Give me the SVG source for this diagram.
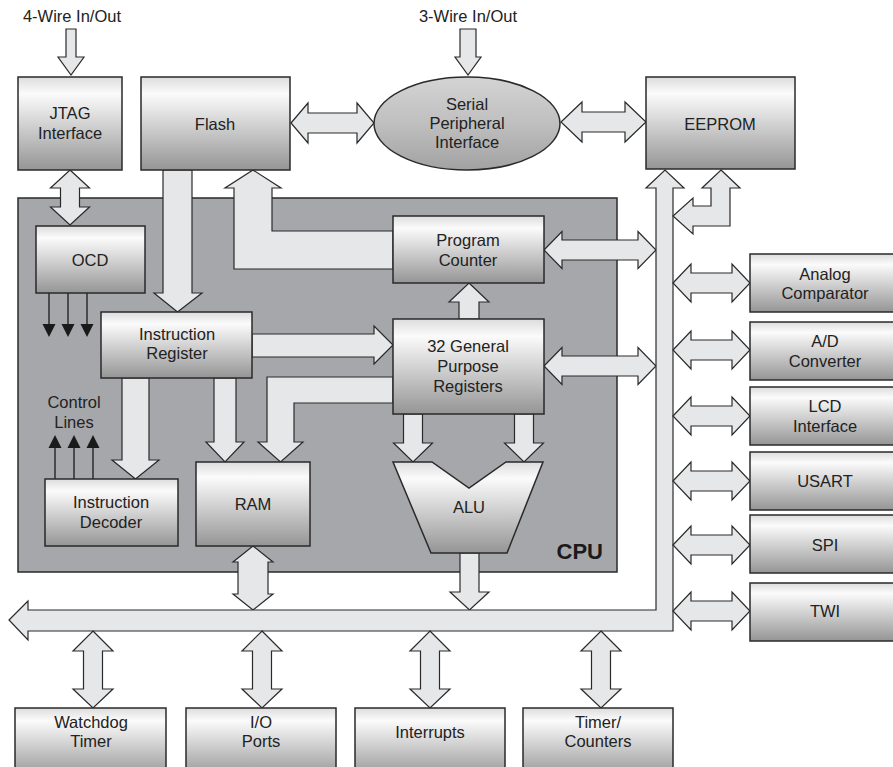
<svg xmlns="http://www.w3.org/2000/svg" width="893" height="767" viewBox="0 0 893 767">
<defs>
<linearGradient id="gb" x1="0" y1="0" x2="0" y2="1">
<stop offset="0" stop-color="#dcdcdc"/>
<stop offset="0.18" stop-color="#fbfbfb"/>
<stop offset="1" stop-color="#959595"/>
</linearGradient>
<linearGradient id="ge" x1="0" y1="0" x2="0" y2="1">
<stop offset="0" stop-color="#d4d4d4"/>
<stop offset="0.5" stop-color="#bfbfbf"/>
<stop offset="1" stop-color="#a2a2a2"/>
</linearGradient>
<style>
.box{fill:url(#gb);stroke:#2a2a2a;stroke-width:1.5}
.arr{fill:#e6e7e8;stroke:#2a2a2a;stroke-width:1.2;stroke-linejoin:miter}
.ln{stroke:#1a1a1a;stroke-width:1.3;fill:none}
.tri{fill:#1a1a1a}
text{font-family:"Liberation Sans",Arial,Helvetica,sans-serif;font-size:16.5px;fill:#222;text-anchor:middle}
</style>
</defs>
<rect width="893" height="767" fill="#ffffff"/>

<g id="cpu">
<rect x="18" y="198" width="599" height="374" fill="#a6a7aa" stroke="#2a2a2a" stroke-width="1.5"/>
<text x="603" y="559" style="font-size:22px;font-weight:bold;text-anchor:end;fill:#1a1a1a">CPU</text>
</g>

<g id="labels">
<text x="72" y="22">4-Wire In/Out</text>
<text x="468" y="22">3-Wire In/Out</text>
</g>

<g id="connectors">
<polygon class="arr" points="66,29 76,29 76,57 84,57 71,75 58,57 66,57"/>
<polygon class="arr" points="460,29 476,29 476,57 481,57 468,75 455,57 460,57"/>
<polygon class="arr" points="70,170 89.5,188 79.5,188 79.5,207 89.5,207 70,225 50.5,207 60.5,207 60.5,188 50.5,188"/>
<polygon class="arr" points="163,170 192,170 192,293 202,293 177.5,312 154,293 163,293"/>
<polygon class="arr" points="253,170 281,188 272,188 272,231 393,231 393,269 234,269 234,188 225,188"/>
<polygon class="arr" points="291,123 308,103 308,113 357,113 357,103 374,123 357,143 357,133 308,133 308,143"/>
<polygon class="arr" points="561,122 582,102 582,112 625,112 625,102 646,122 625,142 625,132 582,132 582,142"/>
<polygon class="arr" points="544,250 562,231.5 562,240 638,240 638,231.5 656,250 638,268.5 638,260 562,260 562,268.5"/>
<polygon class="arr" points="544,366 562,347.5 562,356 638,356 638,347.5 656,366 638,384.5 638,376 562,376 562,384.5"/>
<polygon class="arr" points="469,283 489,302 479,302 479,319 459,319 459,302 449,302"/>
<polygon class="arr" points="252,334 374,334 374,326 393,345 374,364 374,357 252,357"/>
<polygon class="arr" points="122,378 149,378 149,460 159,460 135.5,479 112,460 122,460"/>
<polygon class="arr" points="214,378 236,378 236,442 244,442 225,462 206,442 214,442"/>
<polygon class="arr" points="393,377 267,377 267,442 258,442 280.5,462 303,442 294,442 294,403 393,403"/>
<polygon class="arr" points="403.5,414 422.5,414 422.5,443 432.5,443 413,462 393.5,443 403.5,443"/>
<polygon class="arr" points="514.5,414 533.5,414 533.5,443 543.5,443 524,462 504.5,443 514.5,443"/>
<polygon class="arr" points="460,553 479,553 479,592 489,592 469.5,610 450,592 460,592"/>
<polygon class="arr" points="253,546 273,562 268,562 268,594 273,594 253,610 233,594 238,594 238,562 233,562"/>
<polygon class="arr" points="9,620 28,601 28,610 656,610 656,188 646,188 665,170 684,188 673,188 673,631 28,631 28,640"/>
<polygon class="arr" points="721,170 740,188 730,188 730,226 693,226 693,234 673,216 693,198 693,206 711,206 711,188 702,188"/>
<polygon class="arr" points="673,283 691,264 691,273 732,273 732,264 750,283 732,302 732,293 691,293 691,302"/>
<polygon class="arr" points="673,350 691,331 691,340 732,340 732,331 750,350 732,369 732,360 691,360 691,369"/>
<polygon class="arr" points="673,416 691,397 691,406 732,406 732,397 750,416 732,435 732,426 691,426 691,435"/>
<polygon class="arr" points="673,481 691,462 691,471 732,471 732,462 750,481 732,500 732,491 691,491 691,500"/>
<polygon class="arr" points="673,545 691,526 691,535 732,535 732,526 750,545 732,564 732,555 691,555 691,564"/>
<polygon class="arr" points="673,611 691,592 691,601 732,601 732,592 750,611 732,630 732,621 691,621 691,630"/>
<polygon class="arr" points="93,631 113,651 102.5,651 102.5,689 113,689 93,708 73,689 83.5,689 83.5,651 73,651"/>
<polygon class="arr" points="262,631 282,651 271.5,651 271.5,689 282,689 262,708 242,689 252.5,689 252.5,651 242,651"/>
<polygon class="arr" points="430,631 450,651 439.5,651 439.5,689 450,689 430,708 410,689 420.5,689 420.5,651 410,651"/>
<polygon class="arr" points="601,631 621,651 610.5,651 610.5,689 621,689 601,708 581,689 591.5,689 591.5,651 581,651"/>
<line class="ln" x1="49" y1="293" x2="49" y2="325"/>
<line class="ln" x1="68" y1="293" x2="68" y2="325"/>
<line class="ln" x1="87" y1="293" x2="87" y2="325"/>
<polygon class="tri" points="42.5,324 55.5,324 49,337"/>
<polygon class="tri" points="61.5,324 74.5,324 68,337"/>
<polygon class="tri" points="80.5,324 93.5,324 87,337"/>
<line class="ln" x1="55" y1="479" x2="55" y2="447"/>
<line class="ln" x1="74" y1="479" x2="74" y2="447"/>
<line class="ln" x1="93" y1="479" x2="93" y2="447"/>
<polygon class="tri" points="48.5,448 61.5,448 55,435"/>
<polygon class="tri" points="67.5,448 80.5,448 74,435"/>
<polygon class="tri" points="86.5,448 99.5,448 93,435"/>
<text x="74" y="408">Control</text>
<text x="74" y="428">Lines</text>
</g>

<g id="jtag"><rect class="box" x="18" y="77" width="104" height="93"/><text x="70" y="119">JTAG</text><text x="70" y="139">Interface</text></g>
<g id="flash"><rect class="box" x="141" y="77" width="149" height="93"/><text x="215" y="130">Flash</text></g>
<g id="spi-if"><ellipse cx="467" cy="123.5" rx="93" ry="46.5" fill="url(#ge)" stroke="#2a2a2a" stroke-width="1.5"/><text x="467" y="110">Serial</text><text x="467" y="129">Peripheral</text><text x="467" y="148">Interface</text></g>
<g id="eeprom"><rect class="box" x="646" y="77" width="149" height="92"/><text x="720" y="130">EEPROM</text></g>
<g id="ocd"><rect class="box" x="36" y="226" width="109" height="67"/><text x="90" y="266">OCD</text></g>
<g id="ir"><rect class="box" x="101" y="312" width="151" height="66"/><text x="177" y="340">Instruction</text><text x="177" y="359">Register</text></g>
<g id="pc"><rect class="box" x="393" y="216" width="151" height="67"/><text x="468" y="246">Program</text><text x="468" y="266">Counter</text></g>
<g id="gpr"><rect class="box" x="393" y="319" width="151" height="95"/><text x="468" y="352">32 General</text><text x="468" y="372">Purpose</text><text x="468" y="392">Registers</text></g>
<g id="id"><rect class="box" x="45" y="479" width="133" height="67"/><text x="111" y="508">Instruction</text><text x="111" y="528">Decoder</text></g>
<g id="ram"><rect class="box" x="196" y="462" width="114" height="84"/><text x="253" y="510">RAM</text></g>
<g id="alu"><polygon class="box" points="393,462 432,462 469,488 506,462 543,462 507,553 431,553"/><text x="469" y="513">ALU</text></g>
<g id="analog"><rect class="box" x="750" y="254" width="160" height="58"/><text x="825" y="280">Analog</text><text x="825" y="299">Comparator</text></g>
<g id="adc"><rect class="box" x="750" y="322" width="160" height="58"/><text x="825" y="347">A/D</text><text x="825" y="367">Converter</text></g>
<g id="lcd"><rect class="box" x="750" y="387" width="160" height="58"/><text x="825" y="412">LCD</text><text x="825" y="432">Interface</text></g>
<g id="usart"><rect class="box" x="750" y="452" width="160" height="58"/><text x="825" y="487">USART</text></g>
<g id="spi"><rect class="box" x="750" y="515" width="160" height="58"/><text x="825" y="551">SPI</text></g>
<g id="twi"><rect class="box" x="750" y="583" width="160" height="58"/><text x="825" y="617">TWI</text></g>
<g id="watchdog"><rect class="box" x="15" y="708" width="151" height="70"/><text x="91" y="728">Watchdog</text><text x="91" y="747">Timer</text></g>
<g id="io"><rect class="box" x="186" y="708" width="150" height="70"/><text x="261" y="728">I/O</text><text x="261" y="747">Ports</text></g>
<g id="interrupts"><rect class="box" x="355" y="708" width="150" height="70"/><text x="430" y="738">Interrupts</text></g>
<g id="timers"><rect class="box" x="523" y="708" width="150" height="70"/><text x="598" y="728">Timer/</text><text x="598" y="747">Counters</text></g>
</svg>
